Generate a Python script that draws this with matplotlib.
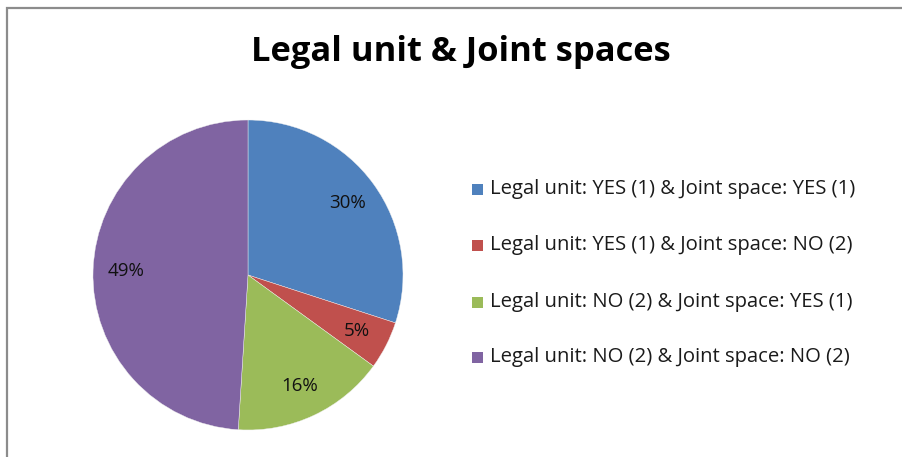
import matplotlib
matplotlib.use('Agg')
import matplotlib.pyplot as plt
from matplotlib.patches import Rectangle

# datos del gráfico
categorias = ['Legal unit: YES (1) & Joint space: YES (1)',
              'Legal unit: YES (1) & Joint space: NO (2)',
              'Legal unit: NO (2) & Joint space: YES (1)',
              'Legal unit: NO (2) & Joint space: NO (2)']
valores = [30, 5, 16, 49]
colores = ['#4F81BD', '#C0504D', '#9BBB59', '#8064A2']
titulo = 'Legal unit & Joint spaces'

W, H = 903, 457
fig = plt.figure(figsize=(W / 100, H / 100), dpi=100)
fig.patch.set_facecolor('white')

# marco gris (cortado a la derecha y abajo)
fig.patches.append(Rectangle((7 / W, -0.2), 2.0, (H - 8) / H + 0.2,
                             transform=fig.transFigure, fill=False,
                             edgecolor='#8c8c8c', linewidth=1.6))

# pie: centro (248, 275), radio 155 px
cx, cy, r = 248, 275, 155
ax = fig.add_axes([(cx - r) / W, (H - cy - r) / H, 2 * r / W, 2 * r / H])
wedges, textos, autotextos = ax.pie(valores, colors=colores, startangle=90,
                                    counterclock=False, autopct='%1.0f%%',
                                    pctdistance=0.79, radius=1,
                                    wedgeprops=dict(linewidth=0.3, edgecolor='#f0f0f0'),
                                    textprops=dict(fontsize=13.5, color='#111111',
                                                   family='Open Sans'))
ax.set_xlim(-1, 1)
ax.set_ylim(-1, 1)
ax.set_aspect('equal')
ax.axis('off')

fig.text(461 / W, 1 - 52 / H, titulo, ha='center', va='center',
         fontsize=24.8, fontweight='bold', family='Open Sans')

# leyenda manual
filas_y = [189, 245, 302, 357]
for i, (cat, col) in enumerate(zip(categorias, colores)):
    y = 1 - filas_y[i] / H
    fig.patches.append(Rectangle((472 / W, y - 5.5 / H), 11 / W, 11 / H,
                                 transform=fig.transFigure, facecolor=col,
                                 edgecolor='none'))
    fig.text(490 / W, y, cat, ha='left', va='center', fontsize=14.6,
             family='Open Sans', color='#1a1a1a')

plt.savefig('out.png', dpi=100)
